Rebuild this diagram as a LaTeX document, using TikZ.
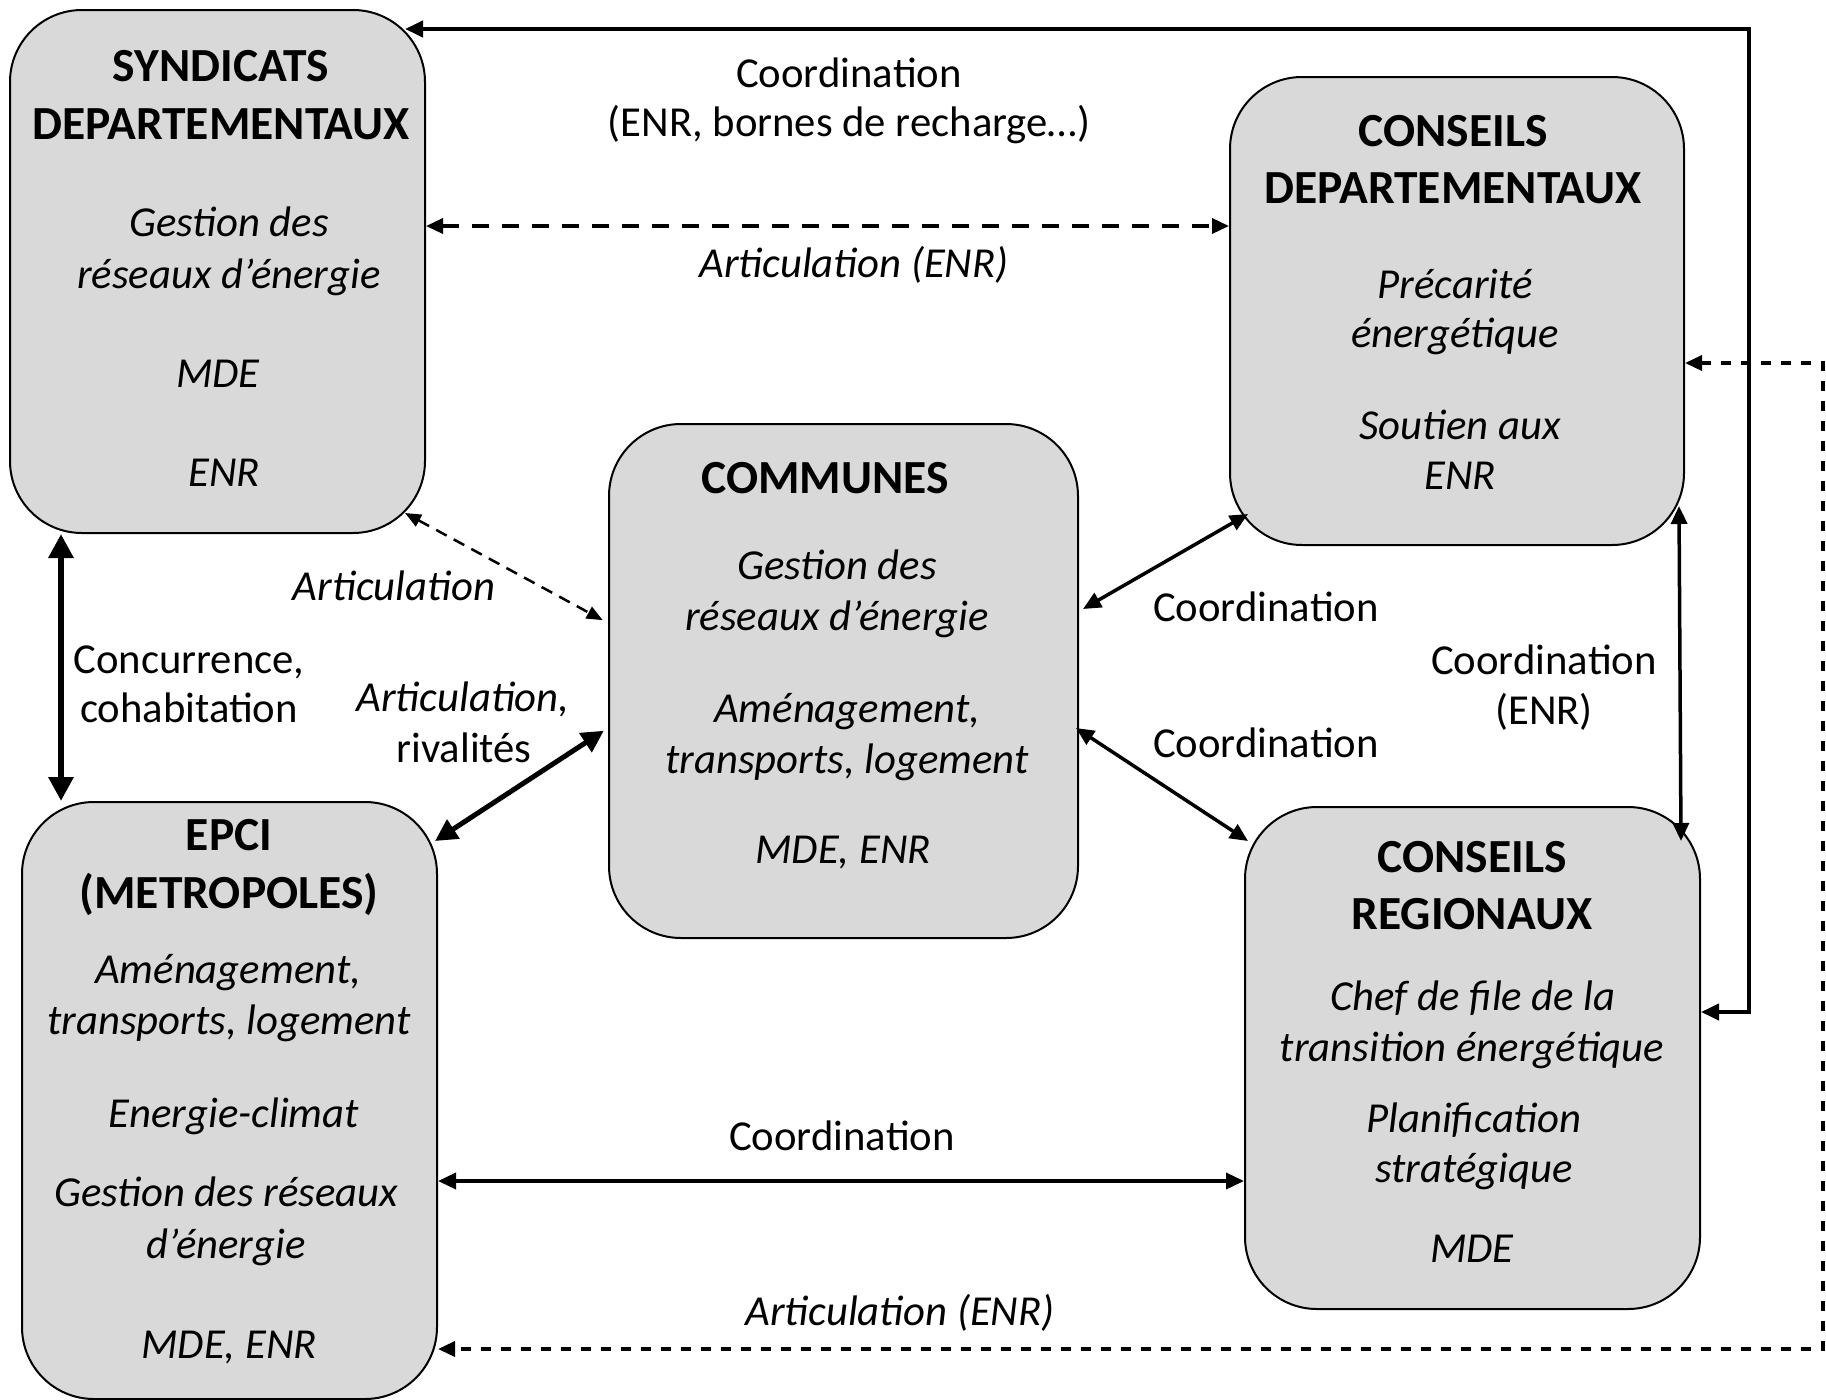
\documentclass[tikz,border=0pt]{standalone}
\usepackage{fontspec}
\setmainfont{Carlito}
\usetikzlibrary{arrows.meta}
\definecolor{boxgray}{HTML}{D9D9D9}
\begin{document}
\begin{tikzpicture}[x=1pt,y=-1pt,
  box/.style={draw=black, line width=2pt, fill=boxgray, rounded corners=72pt, inner sep=0pt, anchor=north west},
  ttl/.style={font=\fontsize{47.5}{56}\selectfont\bfseries, anchor=base, inner sep=0pt},
  itm/.style={font=\fontsize{42.7}{50}\selectfont\itshape, anchor=base, inner sep=0pt},
  lab/.style={font=\fontsize{42.7}{50}\selectfont, anchor=base, inner sep=0pt},
  labi/.style={font=\fontsize{42.7}{50}\selectfont\itshape, anchor=base, inner sep=0pt},
  bigarr/.style={line width=6pt, {Triangle[length=24pt,width=24pt]}-{Triangle[length=24pt,width=24pt]}},
  rivarr/.style={line width=5pt, {Triangle[length=22pt,width=22pt]}-{Triangle[length=22pt,width=22pt]}},
  medarr/.style={line width=3.5pt, {Triangle[length=18pt,width=16pt]}-{Triangle[length=18pt,width=16pt]}},
  routearr/.style={line width=4pt, {Triangle[length=18pt,width=16pt]}-{Triangle[length=18pt,width=16pt]}},
  dasharr/.style={line width=3.5pt, dash pattern=on 17pt off 13pt, {Triangle[length=17pt,width=15pt]}-{Triangle[length=17pt,width=15pt]}},
  shortdash/.style={line width=3.5pt, dash pattern=on 10pt off 10pt, {Triangle[length=17pt,width=15pt]}-{Triangle[length=17pt,width=15pt]}},
  thindash/.style={line width=2.5pt, dash pattern=on 12pt off 8pt, {Triangle[length=16pt,width=13pt]}-{Triangle[length=16pt,width=13pt]}},
]
\useasboundingbox (0,0) rectangle (1826,1400);

% boxes
\node[box, minimum width=415pt, minimum height=523pt] (sd) at (9,9) {};
\node[box, minimum width=454pt, minimum height=468pt] (cd) at (1229,76) {};
\node[box, minimum width=469pt, minimum height=514pt] (cm) at (608,423) {};
\node[box, minimum width=415pt, minimum height=597pt] (ep) at (21,801) {};
\node[box, minimum width=455pt, minimum height=502pt] (cr) at (1244,806) {};

% SYNDICATS DEPARTEMENTAUX
\node[ttl] (sd1) at (221,81) {SYNDICATS};
\node[ttl] (sd2) at (221,139) {DEPARTEMENTAUX};
\node[itm] (sd3) at (229,236) {Gestion des};
\node[itm] (sd4) at (229,288) {réseaux d’énergie};
\node[itm] (sd5) at (218,387) {MDE};
\node[itm] (sd6) at (224,486) {ENR};

% CONSEILS DEPARTEMENTAUX
\node[ttl] (cd1) at (1453,146) {CONSEILS};
\node[ttl] (cd2) at (1453,203) {DEPARTEMENTAUX};
\node[itm] (cd3) at (1455,298) {Précarité};
\node[itm] (cd4) at (1455,347) {énergétique};
\node[itm] (cd5) at (1460,439) {Soutien aux};
\node[itm] (cd6) at (1460,489) {ENR};

% COMMUNES
\node[ttl] (cm1) at (825,493) {COMMUNES};
\node[itm] (cm2) at (837,579) {Gestion des};
\node[itm] (cm3) at (837,630) {réseaux d’énergie};
\node[itm] (cm4) at (847,722) {Aménagement,};
\node[itm] (cm5) at (847,773) {transports, logement};
\node[itm] (cm6) at (843,863) {MDE, ENR};

% EPCI
\node[ttl] (ep1) at (229,850) {EPCI};
\node[ttl] (ep2) at (229,908) {(METROPOLES)};
\node[itm] (ep3) at (228,983) {Aménagement,};
\node[itm] (ep4) at (229,1034) {transports, logement};
\node[itm] (ep5) at (234,1127) {Energie-climat};
\node[itm] (ep6) at (226,1206) {Gestion des réseaux};
\node[itm] (ep7) at (226,1258) {d’énergie};
\node[itm] (ep8) at (229,1358) {MDE, ENR};

% CONSEILS REGIONAUX
\node[ttl] (cr1) at (1472,872) {CONSEILS};
\node[ttl] (cr2) at (1472,929) {REGIONAUX};
\node[itm] (cr3) at (1473,1010) {Chef de file de la};
\node[itm] (cr4) at (1472,1061) {transition énergétique};
\node[itm] (cr5) at (1474,1132) {Planification};
\node[itm] (cr6) at (1474,1182) {stratégique};
\node[itm] (cr7) at (1472,1262) {MDE};

% route coordinates
\coordinate (rtop) at (1749,29);
\coordinate (rbot) at (1749,1012);
\coordinate (dtop) at (1823,363);
\coordinate (dbot) at (1823,1349);
\coordinate (lx) at (61,0);
\coordinate (hy1) at (0,226);
\coordinate (hy2) at (0,1181);

% connectors
\draw[routearr] ([shift={(-21,20)}]sd.north east) -- (rtop) -- (rbot) -- (cr.east |- rbot);
\draw[dasharr] (sd.east |- hy1) -- (cd.west |- hy1);
\draw[thindash, shorten >=6pt] ([shift={(-21,-21)}]sd.south east) -- (cm.west |- 0,623);
\draw[bigarr] (sd.south -| lx) -- (ep.north -| lx);
\draw[rivarr, shorten >=5pt] ([shift={(-3,40)}]ep.north east) -- (cm.west |- 0,728);
\draw[medarr] ([xshift=4pt]cm.east |- 0,609) -- ([shift={(19,-32)}]cd.south west);
\draw[medarr] ([xshift=-3pt]cm.east |- 0,728) -- ([shift={(4,35)}]cr.north west);
\draw[medarr] ([shift={(-6,-40)}]cd.south east) -- ([shift={(-20,35)}]cr.north east);
\draw[medarr] (ep.east |- hy2) -- (cr.west |- hy2);
\draw[shortdash] (cd.east |- dtop) -- (dtop) -- (dbot) -- (ep.east |- dbot);

% connector labels
\node[lab] (l1a) at (849,87) {Coordination};
\node[lab] (l1b) at (849,136) {(ENR, bornes de recharge…)};
\node[labi] (l2) at (854,277) {Articulation (ENR)};
\node[labi] (l3) at (394,600) {Articulation};
\node[lab] (l4a) at (189,673) {Concurrence,};
\node[lab] (l4b) at (189,722) {cohabitation};
\node[labi] (l5a) at (463,711) {Articulation,};
\node[lab] (l5b) at (464,762) {rivalités};
\node[lab] (l6) at (1266,621) {Coordination};
\node[lab] (l7) at (1266,757) {Coordination};
\node[lab] (l8a) at (1544,674) {Coordination};
\node[lab] (l8b) at (1544,724) {(ENR)};
\node[lab] (l9) at (842,1150) {Coordination};
\node[labi] (l10) at (900,1325) {Articulation (ENR)};
\end{tikzpicture}
\end{document}
